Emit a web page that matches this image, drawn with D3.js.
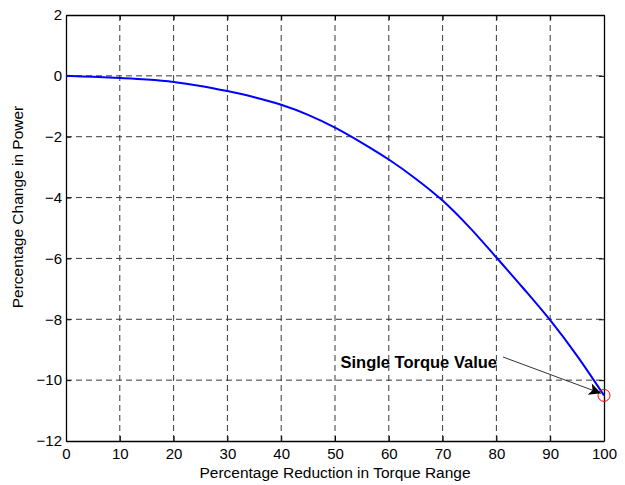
<!DOCTYPE html>
<html>
<head>
<meta charset="utf-8">
<script src="https://cdn.jsdelivr.net/npm/d3@7"></script>
<style>
  body { margin: 0; background: #fff; }
  text { font-family: "Liberation Sans", Arial, sans-serif; }
</style>
</head>
<body>
<script>
// data
const reduction = [0, 5, 10, 15, 20, 25, 30, 35, 40, 45, 50, 55, 60, 65, 70, 75, 80, 85, 90, 95, 100]
const powerChange = [0, -0.03, -0.07, -0.12, -0.2, -0.33, -0.5, -0.7, -0.95, -1.28, -1.7, -2.2, -2.75, -3.38, -4.1, -4.98, -5.97, -6.98, -8.03, -9.2, -10.5]
const xTicks = [0, 10, 20, 30, 40, 50, 60, 70, 80, 90, 100]
const yTicks = [-12, -10, -8, -6, -4, -2, 0, 2]
const marker = { x: 100, y: -10.5, label: 'Single Torque Value' }

const width = 625
const height = 485
const margin = { top: 15, right: 21, bottom: 44, left: 66 }

const svg = d3.select('body').append('svg')
  .attr('width', width)
  .attr('height', height)

const x = d3.scaleLinear().domain([0, 100]).range([margin.left, width - margin.right])
const y = d3.scaleLinear().domain([-12, 2]).range([height - margin.bottom, margin.top])

// grid
svg.append('g')
  .selectAll('line')
  .data(xTicks.slice(1, -1))
  .join('line')
  .attr('x1', d => x(d)).attr('x2', d => x(d))
  .attr('y1', y(2)).attr('y2', y(-12))
  .attr('stroke', '#222').attr('stroke-width', 0.9)
  .attr('stroke-dasharray', '6,4')

svg.append('g')
  .selectAll('line')
  .data(yTicks.slice(1, -1))
  .join('line')
  .attr('x1', x(0)).attr('x2', x(100))
  .attr('y1', d => y(d)).attr('y2', d => y(d))
  .attr('stroke', '#222').attr('stroke-width', 0.9)
  .attr('stroke-dasharray', '6,4')

// axes with inward ticks
const tickLen = 5
svg.append('g')
  .attr('transform', `translate(0,${y(-12)})`)
  .call(d3.axisBottom(x).tickValues(xTicks).tickSizeInner(-tickLen).tickSizeOuter(0).tickPadding(7))
svg.append('g')
  .attr('transform', `translate(0,${y(2)})`)
  .call(d3.axisTop(x).tickValues(xTicks).tickSizeInner(-tickLen).tickSizeOuter(0).tickFormat(''))
svg.append('g')
  .attr('transform', `translate(${x(0)},0)`)
  .call(d3.axisLeft(y).tickValues(yTicks).tickSizeInner(-tickLen).tickSizeOuter(0).tickPadding(4))
svg.append('g')
  .attr('transform', `translate(${x(100)},0)`)
  .call(d3.axisRight(y).tickValues(yTicks).tickSizeInner(-tickLen).tickSizeOuter(0).tickFormat(''))

svg.selectAll('.domain').attr('stroke', '#000').attr('stroke-width', 1.3)
svg.selectAll('.tick line').attr('stroke', '#000')
svg.selectAll('.tick text')
  .style('font-size', '15px')
  .attr('fill', '#000')

// curve
svg.append('path')
  .datum(reduction.map((r, i) => [r, powerChange[i]]))
  .attr('fill', 'none')
  .attr('stroke', '#0000ff')
  .attr('stroke-width', 2)
  .attr('d', d3.line().x(d => x(d[0])).y(d => y(d[1])).curve(d3.curveCatmullRom))

// marker
svg.append('circle')
  .attr('cx', x(marker.x)).attr('cy', y(marker.y))
  .attr('r', 6)
  .attr('fill', 'none')
  .attr('stroke', '#ff0000')
  .attr('stroke-width', 1)

// annotation arrow
svg.append('defs').append('marker')
  .attr('id', 'head')
  .attr('viewBox', '0 0 10 10')
  .attr('refX', 10).attr('refY', 5)
  .attr('markerWidth', 22).attr('markerHeight', 12)
  .attr('markerUnits', 'userSpaceOnUse')
  .attr('orient', 'auto')
  .append('path')
  .attr('d', 'M0,0 L10,5 L0,10 L2.5,5 Z')
  .attr('fill', '#000')

svg.append('line')
  .attr('x1', 503).attr('y1', 357)
  .attr('x2', x(marker.x) - 3).attr('y2', y(marker.y) - 2)
  .attr('stroke', '#000').attr('stroke-width', 0.8)
  .attr('marker-end', 'url(#head)')

svg.append('text')
  .attr('x', 497).attr('y', 368)
  .attr('text-anchor', 'end')
  .attr('font-size', 16.5)
  .attr('font-weight', 'bold')
  .text(marker.label)

// axis labels
svg.append('text')
  .attr('x', x(50)).attr('y', 478)
  .attr('text-anchor', 'middle')
  .attr('font-size', 15.5)
  .text('Percentage Reduction in Torque Range')

svg.append('text')
  .attr('transform', 'translate(23,207) rotate(-90)')
  .attr('text-anchor', 'middle')
  .attr('font-size', 15.5)
  .text('Percentage Change in Power')
</script>
</body>
</html>
